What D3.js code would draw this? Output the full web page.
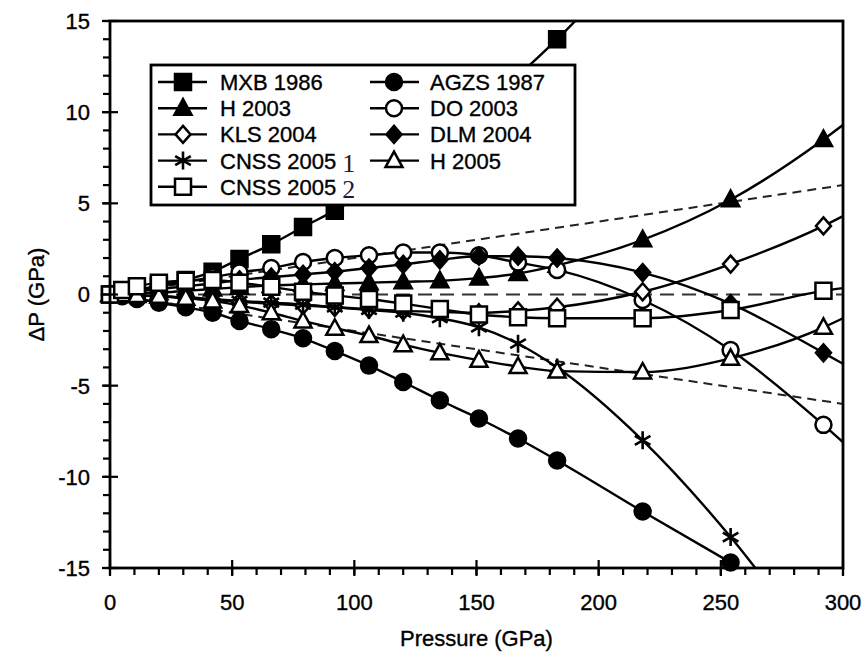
<!DOCTYPE html>
<html>
<head>
<meta charset="utf-8">
<script src="https://cdn.jsdelivr.net/npm/d3@7"></script>
<style>
  body { margin: 0; background: #fff; }
  text { font-family: "Liberation Sans", Arial, Helvetica, sans-serif; stroke: #000; stroke-width: 0.35px; }
</style>
</head>
<body>
<svg width="868" height="655"></svg>
<script>
// reference pressures (GPa); the last entry is where each curve meets the right frame (no symbol there)
var pressure = [0, 5, 11, 20, 31, 42, 53, 66, 79, 92, 106, 120, 135, 151, 167, 183, 218, 254, 292, 300];

// delta P (GPa), null = not plotted
var mxb1986  = [0, 0.1, 0.25, 0.5, 0.8, 1.25, 1.95, 2.75, 3.7, 4.6, 5.7, 7.0, 8.5, 10.2, 12.0, 14.0, 19.0, null, null, null];
var agzs1987 = [0, -0.1, -0.25, -0.45, -0.7, -1.0, -1.45, -1.9, -2.4, -3.1, -3.9, -4.8, -5.8, -6.8, -7.9, -9.1, -11.9, -14.7, null, null];
var h2003    = [0, 0.02, 0.05, 0.1, 0.2, 0.3, 0.4, 0.5, 0.55, 0.6, 0.65, 0.7, 0.75, 0.9, 1.15, 1.6, 3.0, 5.2, 8.5, 9.3];
var do2003   = [0, 0.1, 0.25, 0.45, 0.7, 0.95, 1.2, 1.45, 1.78, 2.0, 2.15, 2.3, 2.3, 2.15, 1.75, 1.35, -0.3, -3.05, -7.15, -8.1];
var kls2004  = [0, -0.02, -0.05, -0.1, -0.2, -0.3, -0.4, -0.5, -0.6, -0.7, -0.8, -0.9, -0.95, -1.0, -0.9, -0.7, 0.15, 1.67, 3.76, 4.3];
var dlm2004  = [0, 0.05, 0.15, 0.3, 0.45, 0.6, 0.8, 0.95, 1.1, 1.25, 1.45, 1.65, 1.9, 2.1, 2.1, 2.0, 1.2, -0.5, -3.2, -3.8];
var cnss1    = [0, 0, -0.05, -0.1, -0.15, -0.25, -0.35, -0.45, -0.55, -0.7, -0.85, -1.0, -1.3, -1.8, -2.7, -4.0, -8.0, -13.3, -20, null];
var h2005    = [0, -0.02, -0.05, -0.1, -0.2, -0.35, -0.6, -1.0, -1.45, -1.85, -2.25, -2.75, -3.2, -3.6, -3.95, -4.2, -4.25, -3.5, -1.8, -1.3];
var cnss2    = [0, 0.25, 0.45, 0.65, 0.75, 0.8, 0.65, 0.42, 0.15, -0.05, -0.25, -0.5, -0.8, -1.1, -1.25, -1.3, -1.3, -0.85, 0.2, 0.35];

// +-2 % guide lines and the zero line
var guideP = [0, 300];
var guideUpper = [0, 6];
var guideLower = [0, -6];
var zeroLine = [0, 0];

var seriesNames = ["MXB 1986", "AGZS 1987", "H 2003", "DO 2003", "KLS 2004", "DLM 2004", "CNSS 2005", "H 2005", "CNSS 2005"];
var seriesSuffix = ["", "", "", "", "", "", "1", "", "2"];
var seriesSymbols = ["squareFilled", "circleFilled", "triangleFilled", "circleOpen", "diamondOpen", "diamondFilled", "asterisk", "triangleOpen", "squareOpen"];
var seriesValues = [mxb1986, agzs1987, h2003, do2003, kls2004, dlm2004, cnss1, h2005, cnss2];

var xTicks = [0, 50, 100, 150, 200, 250, 300];
var yTicks = [-15, -10, -5, 0, 5, 10, 15];

var svg = d3.select("svg"),
    margin = { left: 110, right: 25, top: 21, bottom: 87 },
    width = +svg.attr("width") - margin.left - margin.right,
    height = +svg.attr("height") - margin.top - margin.bottom;

var x = d3.scaleLinear().domain([0, 300]).range([0, width]);
var y = d3.scaleLinear().domain([-15, 15]).range([height, 0]);

var g = svg.append("g")
    .attr("transform", "translate(" + margin.left + "," + margin.top + ")");

g.append("clipPath").attr("id", "plotclip")
  .append("rect").attr("width", width).attr("height", height);

// guide lines
var plain = d3.line()
    .x(function (d) { return x(d[0]); })
    .y(function (d) { return y(d[1]); });

g.append("path")
    .attr("d", plain(d3.zip(guideP, zeroLine)))
    .attr("fill", "none").attr("stroke", "#333").attr("stroke-width", 2.2)
    .attr("stroke-dasharray", "14,8");
[guideUpper, guideLower].forEach(function (vals) {
    g.append("path")
        .attr("d", plain(d3.zip(guideP, vals)))
        .attr("fill", "none").attr("stroke", "#222").attr("stroke-width", 2)
        .attr("stroke-dasharray", "9,6");
});

// symbol drawing
function symbolPath(type) {
    switch (type) {
        case "squareFilled":
        case "squareOpen":
            return "M-8,-8H8V8H-8Z";
        case "circleFilled":
        case "circleOpen":
            return d3.symbol().type(d3.symbolCircle).size(Math.PI * 8 * 8)();
        case "triangleFilled":
        case "triangleOpen":
            return "M0,-9L8.5,6.5L-8.5,6.5Z";
        case "diamondFilled":
        case "diamondOpen":
            return "M0,-8.5L7.5,0L0,8.5L-7.5,0Z";
        case "asterisk":
            return "M0,-9V9M-7.8,-4.5L7.8,4.5M-7.8,4.5L7.8,-4.5";
    }
}

function drawSymbol(sel, type, px, py) {
    var open = /Open/.test(type);
    sel.append("path")
        .attr("d", symbolPath(type))
        .attr("transform", "translate(" + px + "," + py + ")")
        .attr("fill", type === "asterisk" ? "none" : (open ? "#fff" : "#000"))
        .attr("stroke", "#000")
        .attr("stroke-width", type === "asterisk" ? 2.6 : 2.5);
}

var curve = d3.line()
    .defined(function (d) { return d[1] !== null; })
    .curve(d3.curveMonotoneX)
    .x(function (d) { return x(d[0]); })
    .y(function (d) { return y(d[1]); });

seriesValues.forEach(function (vals, i) {
    var pts = d3.zip(pressure, vals);
    var layer = g.append("g").attr("class", "series");
    layer.append("path")
        .attr("d", curve(pts))
        .attr("clip-path", "url(#plotclip)")
        .attr("fill", "none")
        .attr("stroke", "#000")
        .attr("stroke-width", 2.4);
    pts.slice(0, pressure.length - 1).forEach(function (p) {
        if (p[1] === null || Math.abs(p[1]) > 15.5) return;
        drawSymbol(layer, seriesSymbols[i], x(p[0]), y(p[1]));
    });
});

// frame
g.append("rect")
    .attr("width", width).attr("height", height)
    .attr("fill", "none").attr("stroke", "#000").attr("stroke-width", 2.8);

// x axis: minor ticks outward, major ticks crossing
var xMinor = d3.range(0, 301, 10);
g.selectAll(".xminor").data(xMinor).enter().append("line")
    .attr("x1", function (d) { return x(d); }).attr("x2", function (d) { return x(d); })
    .attr("y1", height).attr("y2", height + 7)
    .attr("stroke", "#000").attr("stroke-width", 2.2);
g.selectAll(".xmajor").data(xTicks).enter().append("line")
    .attr("x1", function (d) { return x(d); }).attr("x2", function (d) { return x(d); })
    .attr("y1", height - 8).attr("y2", height + 8)
    .attr("stroke", "#000").attr("stroke-width", 2.2);
g.selectAll(".xlabel").data(xTicks).enter().append("text")
    .attr("x", function (d) { return x(d); })
    .attr("y", height + 42)
    .attr("text-anchor", "middle")
    .attr("font-size", "22px")
    .text(function (d) { return d; });

// y axis
var yMinor = d3.range(-15, 16, 1);
g.selectAll(".yminor").data(yMinor).enter().append("line")
    .attr("x1", -7).attr("x2", 0)
    .attr("y1", function (d) { return y(d); }).attr("y2", function (d) { return y(d); })
    .attr("stroke", "#000").attr("stroke-width", 2.2);
g.selectAll(".ymajor").data(yTicks).enter().append("line")
    .attr("x1", -8).attr("x2", 8)
    .attr("y1", function (d) { return y(d); }).attr("y2", function (d) { return y(d); })
    .attr("stroke", "#000").attr("stroke-width", 2.2);
g.selectAll(".ylabel").data(yTicks).enter().append("text")
    .attr("x", -20)
    .attr("y", function (d) { return y(d); })
    .attr("dy", "0.36em")
    .attr("text-anchor", "end")
    .attr("font-size", "22px")
    .text(function (d) { return d; });

svg.append("text")
    .attr("x", margin.left + width / 2)
    .attr("y", 646)
    .attr("text-anchor", "middle")
    .attr("font-size", "22px")
    .text("Pressure (GPa)");

svg.append("text")
    .attr("transform", "translate(44," + (margin.top + y(0)) + ") rotate(-90)")
    .attr("text-anchor", "middle")
    .attr("font-size", "22px")
    .text("ΔP (GPa)");

// legend
var legend = svg.append("g").attr("class", "legend");
legend.append("rect")
    .attr("x", 151).attr("y", 65).attr("width", 424).attr("height", 140)
    .attr("fill", "#fff").attr("stroke", "#000").attr("stroke-width", 2.8);

var legendCol = [{ line: 158, sym: 183, text: 220 }, { line: 370, sym: 394, text: 430 }];
var legendOrder = [[0, 0, 0], [1, 1, 0], [2, 0, 1], [3, 1, 1], [4, 0, 2], [5, 1, 2], [6, 0, 3], [7, 1, 3], [8, 0, 4]];
legendOrder.forEach(function (o) {
    var i = o[0], c = legendCol[o[1]], ly = 82 + o[2] * 26.2;
    legend.append("line")
        .attr("x1", c.line).attr("x2", c.line + 49)
        .attr("y1", ly).attr("y2", ly)
        .attr("stroke", "#000").attr("stroke-width", 2.4);
    drawSymbol(legend, seriesSymbols[i], c.sym, ly);
    var t = legend.append("text")
        .attr("x", c.text).attr("y", ly).attr("dy", "0.36em")
        .attr("font-size", "22px")
        .text(seriesNames[i]);
    if (seriesSuffix[i]) {
        t.append("tspan")
            .attr("dx", 6)
            .attr("dy", "0.12em")
            .attr("font-family", "'Liberation Serif', 'Times New Roman', serif")
            .attr("font-size", "26px")
            .attr("stroke", "none")
            .attr("fill", seriesSuffix[i] === "1" ? "#3a1212" : "#1c1c40")
            .text(seriesSuffix[i]);
    }
});
</script>
</body>
</html>
